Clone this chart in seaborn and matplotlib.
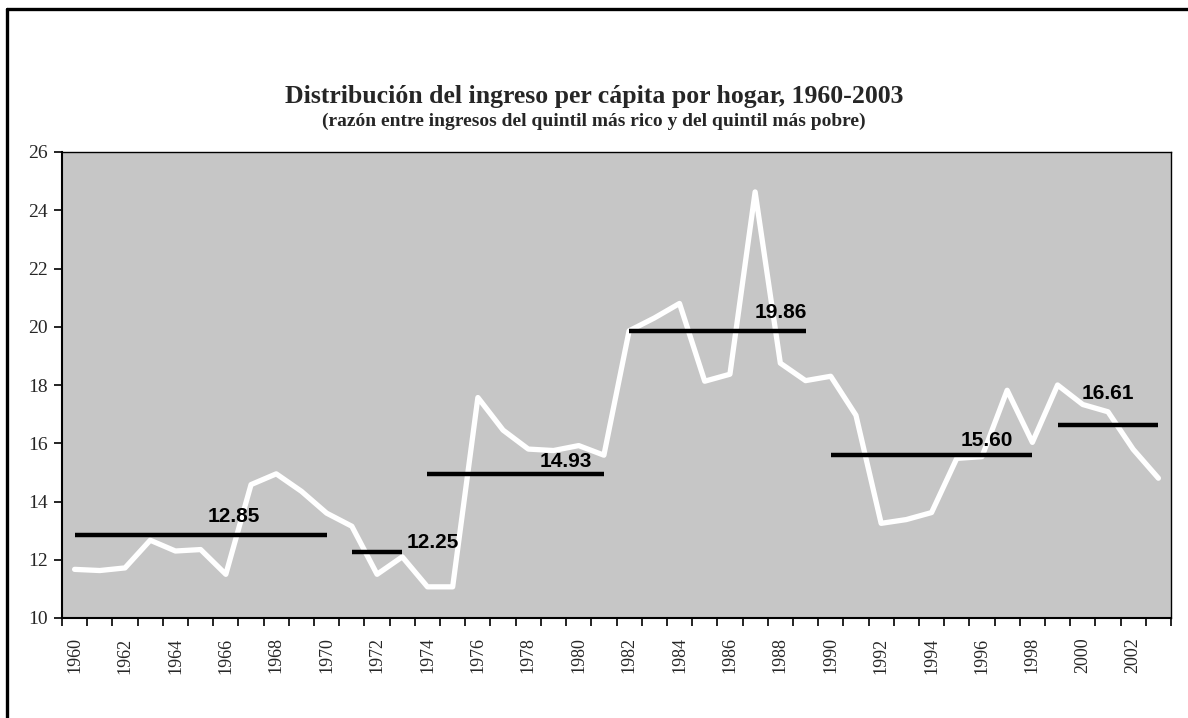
import matplotlib
matplotlib.use("Agg")
import matplotlib.pyplot as plt
from matplotlib.lines import Line2D
from matplotlib.ticker import FixedLocator
import seaborn as sns
import pandas as pd

# Ratio between richest and poorest quintile, by year
years = list(range(1960, 2004))
ratio = [11.67, 11.63, 11.72, 12.67, 12.30, 12.35, 11.50, 14.58, 14.95, 14.35,
         13.60, 13.15, 11.50, 12.10, 11.07, 11.07, 17.57, 16.45, 15.80, 15.75,
         15.92, 15.59, 19.86, 20.30, 20.80, 18.13, 18.37, 24.63, 18.75, 18.15,
         18.30, 16.96, 13.25, 13.38, 13.62, 15.48, 15.54, 17.82, 16.03, 18.00,
         17.33, 17.08, 15.79, 14.80]

# Period averages
period_start = [1960, 1971, 1974, 1982, 1990, 1999]
period_end = [1970, 1973, 1981, 1989, 1998, 2003]
period_mean = [12.85, 12.25, 14.93, 19.86, 15.60, 16.61]
period_label = ["12.85", "12.25", "14.93", "19.86", "15.60", "16.61"]

# where the labels sit (data coords)
label_pos = [(1966.3, 13.47), (1974.2, 12.58), (1979.5, 15.38),
             (1988.0, 20.48), (1996.2, 16.09), (2001.0, 17.70)]

df = pd.DataFrame({"year": years, "ratio": ratio})

sns.set_theme(style="white")
serif = ["Liberation Serif", "DejaVu Serif"]

fig = plt.figure(figsize=(11.88, 7.18), dpi=100)
ax = fig.add_axes([62 / 1188, 1 - 618 / 718, (1171 - 62) / 1188, (618 - 152) / 718])
ax.set_facecolor("#c6c6c6")

sns.lineplot(data=df, x="year", y="ratio", ax=ax, color="white",
             linewidth=3.8, legend=False)

ax.hlines(period_mean, period_start, period_end, colors="black", linewidth=3.2, zorder=3)
for (lx, ly), txt in zip(label_pos, period_label):
    ax.text(lx, ly, txt, ha="center", va="center", fontsize=15, fontweight="bold",
            family=["Liberation Sans", "DejaVu Sans"], color="black", zorder=4)

ax.set_xlim(1959.5, 2003.5)
ax.set_ylim(10, 26)
ax.set_yticks(range(10, 27, 2))
ax.set_yticklabels([str(v) for v in range(10, 27, 2)], family=serif, fontsize=14)

label_years = list(range(1960, 2004, 2))
ax.xaxis.set_major_locator(FixedLocator(label_years))
ax.set_xticklabels([str(y) for y in label_years], rotation=90, family=serif, fontsize=13)
ax.xaxis.set_minor_locator(FixedLocator([y + 0.5 for y in range(1959, 2004)]))
ax.tick_params(axis="x", which="major", length=0, pad=14)
ax.tick_params(axis="x", which="minor", length=6, width=1.2, color="black", direction="out", bottom=True)
ax.tick_params(axis="y", length=6, width=1.2, color="black", direction="out", left=True, pad=4)
ax.set_xlabel("")
ax.set_ylabel("")

for side, sp in ax.spines.items():
    sp.set_visible(True)
    sp.set_color("black")
    sp.set_linewidth(1.5 if side in ("left", "bottom") else 1.0)

fig.text(0.5, 1 - 97 / 718, "Distribución del ingreso per cápita por hogar, 1960-2003",
         ha="center", va="center", fontsize=18.5, fontweight="bold", family=serif)
fig.text(0.5, 1 - 121 / 718, "(razón entre ingresos del quintil más rico y del quintil más pobre)",
         ha="center", va="center", fontsize=14, fontweight="bold", family=serif)

# page border (top and left only)
fig.add_artist(Line2D([7 / 1188, 1], [1 - 9 / 718, 1 - 9 / 718], color="black", linewidth=2.4))
fig.add_artist(Line2D([7 / 1188, 7 / 1188], [0, 1 - 9 / 718], color="black", linewidth=2.4))

fig.savefig("out.png", dpi=100)
